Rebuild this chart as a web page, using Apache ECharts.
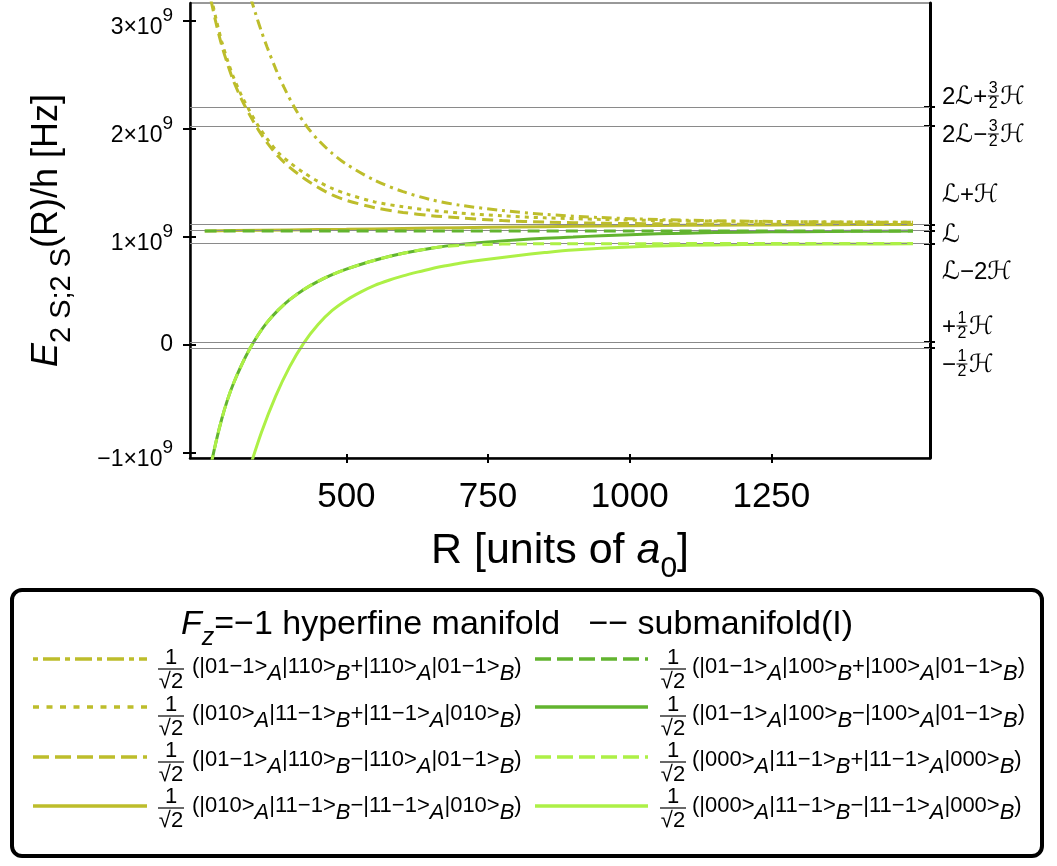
<!DOCTYPE html>
<html>
<head>
<meta charset="utf-8">
<script src="https://cdn.jsdelivr.net/npm/echarts@6/dist/echarts.min.js"></script>
<style>
  html, body { margin: 0; padding: 0; background: #fff; }
  #main { width: 1057px; height: 866px; }
</style>
</head>
<body>
<div id="main"></div>
<script>
// Pair energies E(R)/h in units of 10^9 Hz versus separation R in Bohr radii.

const X_TICKS = [500, 750, 1000, 1250];
const Y_TICKS = [-1, 0, 1, 2, 3];

// Asymptotic levels (Lamb shift L, hyperfine H), 10^9 Hz
const LEVEL_VALUES = [2.2045, 2.0269, 1.1170, 1.0578, 0.9394, 0.0296, -0.0296];
const LEVEL_LABELS = ['2ℒ+{3/2}ℋ', '2ℒ−{3/2}ℋ', 'ℒ+ℋ', 'ℒ', 'ℒ−2ℋ', '+{1/2}ℋ', '−{1/2}ℋ'];

// 1/√2(|01−1>A|110>B+|110>A|01−1>B)
const R_YA = [320, 330, 340, 350, 360, 375, 390, 410, 430, 450, 475, 500, 550, 600, 650, 700, 775, 850, 950, 1050, 1150, 1300, 1500];
const E_YA = [3.42, 3.235, 3.065, 2.905, 2.76, 2.56, 2.385, 2.185, 2.025, 1.90, 1.775, 1.675, 1.525, 1.42, 1.345, 1.295, 1.245, 1.21, 1.18, 1.162, 1.151, 1.142, 1.136];

// 1/√2(|010>A|11−1>B+|11−1>A|010>B)
const R_YB = [250, 260, 270, 280, 290, 300, 315, 330, 345, 360, 380, 400, 425, 450, 475, 500, 550, 600, 650, 700, 775, 850, 950, 1050, 1150, 1300, 1500];
const E_YB = [3.55, 3.26, 3.02, 2.81, 2.64, 2.49, 2.31, 2.16, 2.025, 1.91, 1.78, 1.69, 1.595, 1.515, 1.45, 1.40, 1.325, 1.28, 1.247, 1.222, 1.196, 1.178, 1.163, 1.153, 1.147, 1.141, 1.137];

// 1/√2(|01−1>A|110>B−|110>A|01−1>B)
const R_YC = [250, 260, 270, 280, 290, 300, 315, 330, 345, 360, 380, 400, 425, 450, 475, 500, 550, 600, 650, 700, 775, 850, 950, 1050, 1150, 1300, 1500];
const E_YC = [3.50, 3.22, 2.98, 2.775, 2.605, 2.455, 2.275, 2.125, 1.99, 1.875, 1.745, 1.645, 1.545, 1.46, 1.39, 1.34, 1.272, 1.228, 1.198, 1.178, 1.152, 1.139, 1.128, 1.123, 1.120, 1.118, 1.117];

// 1/√2(|010>A|11−1>B−|11−1>A|010>B)
const R_YD = [250, 300, 400, 500, 600, 700, 800, 900, 1000, 1100, 1200, 1300, 1400, 1500];
const E_YD = [1.057, 1.060, 1.066, 1.072, 1.079, 1.086, 1.093, 1.099, 1.104, 1.108, 1.111, 1.113, 1.115, 1.116];

// 1/√2(|01−1>A|100>B+|100>A|01−1>B)
const R_GA = [250, 500, 750, 1000, 1250, 1500];
const E_GA = [1.056, 1.056, 1.056, 1.056, 1.056, 1.056];

// 1/√2(|01−1>A|100>B−|100>A|01−1>B)
const R_GB = [250, 260, 270, 280, 290, 300, 315, 330, 345, 360, 380, 400, 425, 450, 475, 500, 550, 600, 650, 700, 750, 800, 850, 900, 950, 1000, 1100, 1200, 1300, 1400, 1500];
const E_GB = [-1.43, -1.14, -0.895, -0.685, -0.51, -0.365, -0.185, -0.03, 0.10, 0.21, 0.325, 0.42, 0.515, 0.59, 0.652, 0.703, 0.785, 0.849, 0.897, 0.932, 0.955, 0.973, 0.988, 1.000, 1.012, 1.022, 1.036, 1.045, 1.050, 1.053, 1.055];

// 1/√2(|000>A|11−1>B+|11−1>A|000>B)
const R_LA = [250, 260, 270, 280, 290, 300, 315, 330, 345, 360, 380, 400, 425, 450, 475, 500, 550, 600, 650, 675, 700, 750, 800, 900, 1100, 1500];
const E_LA = [-1.43, -1.14, -0.895, -0.685, -0.51, -0.365, -0.185, -0.03, 0.10, 0.21, 0.325, 0.42, 0.515, 0.59, 0.652, 0.703, 0.785, 0.849, 0.897, 0.912, 0.923, 0.932, 0.936, 0.938, 0.939, 0.940];

// 1/√2(|000>A|11−1>B−|11−1>A|000>B)
const R_LB = [325, 350, 375, 400, 425, 450, 475, 500, 525, 550, 575, 600, 625, 650, 675, 700, 750, 800, 850, 900, 1000, 1100, 1200, 1300, 1400, 1500];
const E_LB = [-1.21, -0.81, -0.475, -0.20, 0.02, 0.19, 0.32, 0.415, 0.49, 0.5525, 0.60, 0.64, 0.675, 0.707, 0.734, 0.758, 0.795, 0.827, 0.856, 0.88, 0.908, 0.923, 0.93, 0.934, 0.936, 0.937];

const KETS = [
  '(|01−1>_A|110>_B+|110>_A|01−1>_B)',
  '(|010>_A|11−1>_B+|11−1>_A|010>_B)',
  '(|01−1>_A|110>_B−|110>_A|01−1>_B)',
  '(|010>_A|11−1>_B−|11−1>_A|010>_B)',
  '(|01−1>_A|100>_B+|100>_A|01−1>_B)',
  '(|01−1>_A|100>_B−|100>_A|01−1>_B)',
  '(|000>_A|11−1>_B+|11−1>_A|000>_B)',
  '(|000>_A|11−1>_B−|11−1>_A|000>_B)'
];

const FONT = '"Liberation Sans", Arial, Helvetica, sans-serif';
const SCRIPT = '"DejaVu Sans", sans-serif';
const YELLOW = '#bdbd2b', GREEN = '#62b42f', LIME = '#adf046', LEVEL_GRAY = '#8a8a8a';

// state table: curve data, colour, dash in plot, dash in key, key slot
const STATES = [
  { ket: KETS[0], r: R_YA, e: E_YA, color: YELLOW, dash: [10, 5, 3, 5], keyDash: [5, 5, 17, 5], col: 0, row: 0 },
  { ket: KETS[1], r: R_YB, e: E_YB, color: YELLOW, dash: [4, 5], keyDash: [6, 7.5], col: 0, row: 1 },
  { ket: KETS[2], r: R_YC, e: E_YC, color: YELLOW, dash: [11, 6], keyDash: [16, 6], col: 0, row: 2 },
  { ket: KETS[3], r: R_YD, e: E_YD, color: YELLOW, dash: null, keyDash: null, col: 0, row: 3 },
  { ket: KETS[4], r: R_GA, e: E_GA, color: GREEN, dash: [12, 7], keyDash: [16, 6], col: 1, row: 0 },
  { ket: KETS[5], r: R_GB, e: E_GB, color: GREEN, dash: null, keyDash: null, col: 1, row: 1 },
  { ket: KETS[6], r: R_LA, e: E_LA, color: LIME, dash: [11, 6], keyDash: [16, 6], col: 1, row: 2 },
  { ket: KETS[7], r: R_LB, e: E_LB, color: LIME, dash: null, keyDash: null, col: 1, row: 3 }
];
// bottom-to-top drawing order
const DRAW_ORDER = [3, 5, 7, 2, 1, 0, 4, 6];

const X_MIN = 224, X_MAX = 1530, Y_MIN = -1.046, Y_MAX = 3.167;

const chart = echarts.init(document.getElementById('main'), null, { renderer: 'canvas' });

const measureCtx = document.createElement('canvas').getContext('2d');
function textWidth(str, size, family, italic) {
  measureCtx.font = (italic ? 'italic ' : '') + size + 'px ' + family;
  return measureCtx.measureText(str).width;
}
function textEl(str, x, y, size, family, align, italic) {
  return {
    type: 'text', x: x, y: y, silent: true,
    style: { text: str, fontSize: size, fontFamily: family, fontStyle: italic ? 'italic' : 'normal',
             fill: '#000', align: align || 'left', verticalAlign: 'middle' }
  };
}
function lineEl(x1, y1, x2, y2, stroke, width, dash) {
  return {
    type: 'line', silent: true,
    shape: { x1: x1, y1: y1, x2: x2, y2: y2 },
    style: { stroke: stroke, lineWidth: width, lineDash: dash || null }
  };
}

const plain = s => '1/√2' + s.replace(/_/g, '');

// ---- series ----
const series = [{
  type: 'line', name: 'levels', data: [], z: 1, silent: true,
  xAxisIndex: 0, yAxisIndex: 0,
  markLine: {
    silent: true, symbol: ['none', 'none'], animation: false,
    label: { show: false },
    lineStyle: { color: LEVEL_GRAY, width: 1, type: 'solid' },
    data: LEVEL_VALUES.map(v => ({ yAxis: v }))
  }
}];
DRAW_ORDER.forEach((idx, k) => {
  const s = STATES[idx];
  series.push({
    type: 'line', name: plain(s.ket), z: 2 + k,
    xAxisIndex: 0, yAxisIndex: 0,
    data: s.r.map((r, i) => [r, s.e[i]]),
    showSymbol: false, symbol: 'none', smooth: 0.3, clip: true,
    lineStyle: { color: s.color, width: 3, type: s.dash ? s.dash : 'solid', cap: 'butt' },
    emphasis: { disabled: true }
  });
});

// ---- graphic: level labels on the right, key box below ----
const graphic = [];

const LEVEL_LABEL_X = 942;
const LEVEL_LABEL_Y = [97, 135, 195, 235, 272, 327, 365];
LEVEL_LABELS.forEach((label, li) => {
  const yc = LEVEL_LABEL_Y[li];
  let x = LEVEL_LABEL_X;
  label.split(/(\{\d\/\d\})/).filter(p => p).forEach(part => {
    const m = part.match(/^\{(\d)\/(\d)\}$/);
    if (m) {
      const w = Math.max(textWidth(m[1], 16, FONT), textWidth(m[2], 16, FONT)) + 3;
      graphic.push(textEl(m[1], x + w / 2, yc - 8.5, 16, FONT, 'center'));
      graphic.push(lineEl(x + 0.5, yc - 1, x + w - 0.5, yc - 1, '#000', 1));
      graphic.push(textEl(m[2], x + w / 2, yc + 7, 16, FONT, 'center'));
      x += w + 1;
    } else {
      Array.from(part).forEach(ch => {
        const script = /[ℒℋ]/.test(ch);
        const fam = script ? SCRIPT : FONT;
        const size = script ? 25 : 24;
        graphic.push(textEl(ch, x, yc, size, fam, 'left'));
        x += textWidth(ch, size, fam);
      });
    }
  });
});

// key box
graphic.push({
  type: 'rect', silent: true,
  shape: { x: 12, y: 590, width: 1030, height: 266, r: 10 },
  style: { fill: 'none', stroke: '#000', lineWidth: 4 }
});

// key title
graphic.push({
  type: 'text', x: 517, y: 626, silent: true,
  style: {
    text: '{f|F}{z|z}{t|=−1 hyperfine manifold   −− submanifold(I)}',
    align: 'center', verticalAlign: 'middle',
    rich: {
      f: { fontSize: 34, fontFamily: FONT, fontStyle: 'italic', fill: '#000', lineHeight: 36, verticalAlign: 'top' },
      z: { fontSize: 25, fontFamily: FONT, fontStyle: 'italic', fill: '#000', lineHeight: 26, padding: [18, 0, 0, 0], verticalAlign: 'top' },
      t: { fontSize: 34, fontFamily: FONT, fill: '#000', lineHeight: 36, verticalAlign: 'top' }
    }
  }
});

const KEY_LINE_X = [[33, 147], [535, 648]];
const KEY_FRAC_X = [171, 673];
const KET_X = [192, 692];
const KEY_LINE_Y = [659, 707, 757, 806];
const KEY_TEXT_Y = [667, 714, 760, 806];
const KET_SIZE = 22;

STATES.forEach(s => {
  const lx = KEY_LINE_X[s.col];
  graphic.push(lineEl(lx[0], KEY_LINE_Y[s.row], lx[1], KEY_LINE_Y[s.row], s.color, 3.5, s.keyDash));
  const yc = KEY_TEXT_Y[s.row];
  const fx = KEY_FRAC_X[s.col];
  graphic.push(textEl('1', fx, yc - 9, KET_SIZE, FONT, 'center'));
  graphic.push(lineEl(fx - 13, yc + 2, fx + 13, yc + 2, '#000', 1.2));
  graphic.push(textEl('√2', fx, yc + 15, KET_SIZE, FONT, 'center'));
  let x = KET_X[s.col];
  s.ket.split(/(_[AB])/).filter(p => p).forEach(part => {
    if (part[0] === '_') {
      const t = part.slice(1);
      graphic.push(textEl(t, x, yc + 7, KET_SIZE, FONT, 'left', true));
      x += textWidth(t, KET_SIZE, FONT, true);
    } else {
      graphic.push(textEl(part, x, yc, KET_SIZE, FONT, 'left'));
      x += textWidth(part, KET_SIZE, FONT);
    }
  });
});

// ---- axes ----
const tickStyle = { color: '#000', width: 2 };
const yLabelRich = {
  b: { fontSize: 23, fontFamily: FONT, color: '#000', lineHeight: 22, padding: [10, 0, 0, 0], verticalAlign: 'top' },
  s: { fontSize: 19, fontFamily: FONT, color: '#000', lineHeight: 30, verticalAlign: 'top' },
  o: { fontSize: 23, fontFamily: FONT, color: '#000', lineHeight: 24 }
};

const option = {
  animation: false,
  backgroundColor: '#fff',
  grid: { left: 190, right: 127, top: 3, bottom: 408, show: true, borderColor: '#333', borderWidth: 1, backgroundColor: 'transparent' },
  xAxis: [
    {
      type: 'value', position: 'bottom', min: X_MIN, max: X_MAX,
      axisLine: { show: true, onZero: false, lineStyle: { color: '#000', width: 2.5 } },
      axisTick: { show: true, inside: false, length: 5, lineStyle: tickStyle, customValues: X_TICKS },
      axisLabel: { show: true, customValues: X_TICKS, formatter: v => String(v), fontSize: 35, fontFamily: FONT, color: '#000', margin: 22 },
      splitLine: { show: false },
      name: '{n|R [units of }{a|a}{s|0}{n|]}',
      nameLocation: 'middle', nameGap: 72,
      nameTextStyle: {
        rich: {
          n: { fontSize: 43, fontFamily: FONT, color: '#000', lineHeight: 46, verticalAlign: 'top' },
          a: { fontSize: 43, fontFamily: FONT, fontStyle: 'italic', color: '#000', lineHeight: 46, verticalAlign: 'top' },
          s: { fontSize: 30, fontFamily: FONT, color: '#000', lineHeight: 30, padding: [24, 0, 0, 0], verticalAlign: 'top' }
        }
      }
    },
    {
      type: 'value', position: 'bottom', min: X_MIN, max: X_MAX,
      axisLine: { show: false, onZero: false },
      axisTick: { show: true, inside: true, length: 4, lineStyle: tickStyle, customValues: X_TICKS },
      axisLabel: { show: false },
      splitLine: { show: false }
    }
  ],
  yAxis: [
    {
      type: 'value', position: 'left', min: Y_MIN, max: Y_MAX,
      axisLine: { show: true, onZero: false, lineStyle: { color: '#000', width: 2.5 } },
      axisTick: { show: true, inside: false, length: 7, lineStyle: tickStyle, customValues: Y_TICKS },
      axisLabel: {
        show: true, customValues: Y_TICKS, margin: 17,
        formatter: v => v === 0 ? '{o|0}' : '{b|' + (v < 0 ? '−' : '') + Math.abs(v) + '×10}{s|9}',
        rich: yLabelRich
      },
      splitLine: { show: false },
      name: '{e|E}{s|2 S;2 S}{n|(R)/h [Hz]}',
      nameLocation: 'middle', nameRotate: 90, nameGap: 121,
      nameTextStyle: {
        rich: {
          e: { fontSize: 36, fontFamily: FONT, fontStyle: 'italic', color: '#000', lineHeight: 40, verticalAlign: 'top' },
          s: { fontSize: 29, fontFamily: FONT, color: '#000', lineHeight: 30, padding: [18, 0, 0, 0], verticalAlign: 'top' },
          n: { fontSize: 36, fontFamily: FONT, color: '#000', lineHeight: 40, verticalAlign: 'top' }
        }
      }
    },
    {
      type: 'value', position: 'left', min: Y_MIN, max: Y_MAX,
      axisLine: { show: false, onZero: false },
      axisTick: { show: true, inside: true, length: 6, lineStyle: tickStyle, customValues: Y_TICKS },
      axisLabel: { show: false },
      splitLine: { show: false }
    },
    {
      type: 'value', position: 'right', min: Y_MIN, max: Y_MAX,
      axisLine: { show: true, onZero: false, lineStyle: { color: '#000', width: 3 } },
      axisTick: { show: true, inside: false, length: 5, lineStyle: tickStyle, customValues: LEVEL_VALUES },
      axisLabel: { show: false },
      splitLine: { show: false }
    },
    {
      type: 'value', position: 'right', min: Y_MIN, max: Y_MAX,
      axisLine: { show: false, onZero: false },
      axisTick: { show: true, inside: true, length: 6, lineStyle: tickStyle, customValues: LEVEL_VALUES },
      axisLabel: { show: false },
      splitLine: { show: false }
    }
  ],
  series: series,
  graphic: { elements: graphic }
};

chart.setOption(option);
</script>
</body>
</html>
